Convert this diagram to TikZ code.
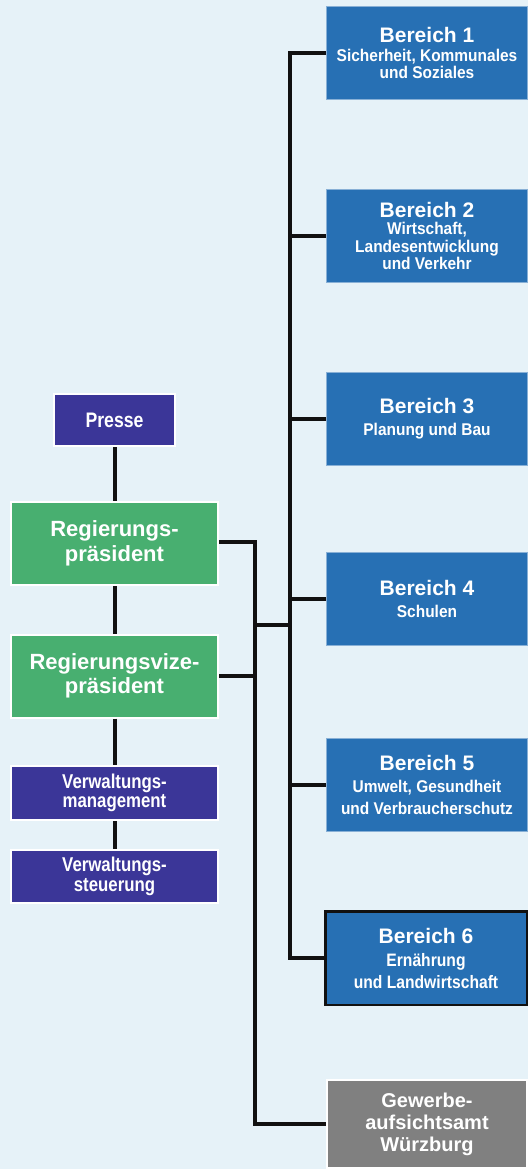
\documentclass[tikz,border=0pt]{standalone}
\usepackage{fontspec}
\setmainfont{Liberation Sans}
\newfontfamily\narrowA{Liberation Sans}[FakeStretch=0.91]
\newfontfamily\narrowB{Liberation Sans}[FakeStretch=0.84]
\newfontfamily\narrowC{Liberation Sans}[FakeStretch=0.87]
\definecolor{bg}{RGB}{230,242,248}
\definecolor{blueb}{RGB}{39,112,180}
\definecolor{purp}{RGB}{59,54,152}
\definecolor{grn}{RGB}{72,175,112}
\definecolor{gry}{RGB}{128,128,128}
\definecolor{ln}{RGB}{17,17,17}
\newcommand{\ttl}[1]{{\rmfamily\bfseries\fontsize{21}{21}\selectfont #1}}
\setlength{\lineskiplimit}{-20pt}
\begin{document}
\begin{tikzpicture}[x=1pt,y=-1pt,
  box/.style={rectangle, text=white, align=center, inner sep=0pt},
  bereich/.style={box, fill=blueb, draw=blueb!55!white, line width=1pt,
    minimum width=201pt, minimum height=93pt,
    font=\bfseries\narrowA\fontsize{17}{17}\selectfont},
  purpbox/.style={box, fill=purp, draw=white, line width=2pt,
    font=\bfseries\narrowB\fontsize{20}{19.5}\selectfont},
  greenbox/.style={box, fill=grn, draw=white, line width=2pt,
    minimum width=207pt, minimum height=83pt,
    font=\bfseries\fontsize{22}{24.5}\selectfont},
  conn/.style={draw=ln, line width=4pt}
]
\useasboundingbox (0,0) rectangle (528,1169);
\fill[bg] (0,0) rectangle (528,1169);

% right column
\node[bereich] (b1) at (427,53) {\ttl{Bereich 1}\\[2pt]Sicherheit, Kommunales\\und Soziales};
\node[bereich] (b2) at (427,236) {\ttl{Bereich 2}\\[0.7pt]Wirtschaft,\\[0.5pt]Landesentwicklung\\[0.5pt]und Verkehr};
\node[bereich] (b3) at (427,419) {\ttl{Bereich 3}\\[5pt]Planung und Bau};
\node[bereich] (b4) at (427,599) {\ttl{Bereich 4}\\[5pt]Schulen};
\node[bereich] (b5) at (427,785) {\ttl{Bereich 5}\\[4.7pt]Umwelt, Gesundheit\\[5.5pt]und Verbraucherschutz};
\node[box, fill=blueb, draw=ln, line width=2.5pt, minimum width=201.5pt, minimum height=93.5pt,
  font=\bfseries\narrowC\fontsize{18}{18}\selectfont]
  (b6) at (426,958) {\ttl{Bereich 6}\\[5pt]Ernährung\\[4pt]und Landwirtschaft};
\node[box, fill=gry, draw=white, line width=2pt, minimum width=200pt, minimum height=88pt,
  font=\bfseries\fontsize{20}{22}\selectfont]
  (gw) at (427,1124) {Gewerbe-\\aufsichtsamt\\Würzburg};

% left column
\node[purpbox, minimum width=121pt, minimum height=52pt, font=\bfseries\narrowB\fontsize{21}{21}\selectfont] (pr) at (114.5,420) {Presse};
\node[greenbox] (rp) at (114.5,543.5) {Regierungs-\\präsident};
\node[greenbox] (rvp) at (114.5,676) {Regierungsvize-\\präsident};
\node[purpbox, minimum width=207pt, minimum height=54pt] (vm) at (114.5,793) {Verwaltungs-\\management};
\node[purpbox, minimum width=207pt, minimum height=53pt] (vs) at (114.5,876.5) {Verwaltungs-\\steuerung};

% connectors
\coordinate (ja) at (255,542);
\coordinate (jb) at (290,625);
\draw[conn] (pr.south) -- (rp.north);
\draw[conn] (rp.south) -- (rvp.north);
\draw[conn] (rvp.south) -- (vm.north);
\draw[conn] (vm.south) -- (vs.north);
\draw[conn] (rp.east |- ja) -- (ja) |- (gw.west);
\draw[conn] (rvp.east) -- (rvp.east -| ja);
\draw[conn] (ja |- jb) -- (jb);
\draw[conn] (b1.west) -- (b1.west -| jb) -- (b6.west -| jb) -- (b6.west);
\foreach \b in {b2,b3,b4,b5} \draw[conn] (\b.west) -- (\b.west -| jb);
\end{tikzpicture}
\end{document}
